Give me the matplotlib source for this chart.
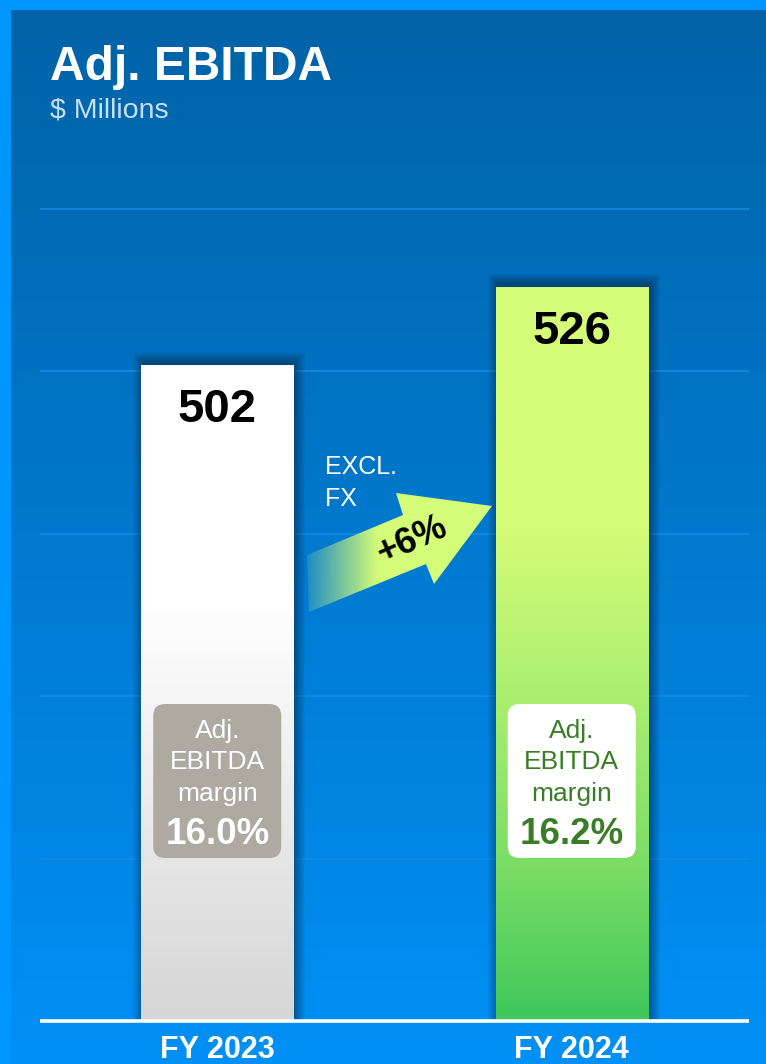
import numpy as np
import matplotlib
matplotlib.use('Agg')
import matplotlib.pyplot as plt
from matplotlib.colors import LinearSegmentedColormap, to_rgb
from matplotlib.patches import Rectangle, FancyBboxPatch, Polygon

# ---------------- data ----------------
categories = ['FY 2023', 'FY 2024']
values = [502, 526]
margin_values = ['16.0%', '16.2%']
margin_caption = ['Adj.', 'EBITDA', 'margin']
growth_label = '+6%'
growth_note = ['EXCL.', 'FX']
title = 'Adj. EBITDA'
subtitle = '$ Millions'
y_min, y_max = 300, 600
grid_ticks = [350, 400, 450, 500, 550]

plt.rcParams['font.family'] = ['Liberation Sans', 'DejaVu Sans']

W, H = 766, 1064
DPI = 100
fig = plt.figure(figsize=(W / DPI, H / DPI), dpi=DPI)


def fx(x):
    return x / W


def fy(y):
    return 1 - y / H


# ---------------- background ----------------
bg = fig.add_axes([0, 0, 1, 1], zorder=0)
bg.set_xlim(0, W)
bg.set_ylim(H, 0)
bg.axis('off')
top_c = np.array(to_rgb('#0062a6'))
bot_c = np.array(to_rgb('#0090f6'))
t = np.linspace(0, 1, 256)[:, None]
grad = top_c * (1 - t) + bot_c * t
img = np.repeat(grad[:, None, :], 2, axis=1)
bg.imshow(img, extent=[0, W, H, 0], aspect='auto', interpolation='bilinear')
bg.add_patch(Rectangle((0, 0), W, 10, color='#0096ff', lw=0))
bg.add_patch(Rectangle((0, 0), 11, H, color='#0096ff', lw=0))
bg.set_xlim(0, W)
bg.set_ylim(H, 0)

# ---------------- main axes ----------------
ax = fig.add_axes([fx(40), fy(1021), fx(749) - fx(40), fy(46) - fy(1021)], zorder=1)
ax.patch.set_alpha(0)
ax.set_xlim(-0.5, 1.5)
ax.set_ylim(y_min, y_max)
for s in ax.spines.values():
    s.set_visible(False)
ax.set_yticks([])
ax.set_xticks([])

for g in grid_ticks:
    ax.axhline(g, color='#1a8ce8', lw=1.4, alpha=0.75, zorder=1, solid_capstyle='butt')

x = np.arange(len(categories))
bar_w = 0.43
bars = ax.bar(x, np.array(values) - y_min, bottom=y_min, width=bar_w,
              color='none', lw=0, zorder=3)

# pixel -> data scale
ax_w_px = (fx(749) - fx(40)) * W
ax_h_px = (fy(46) - fy(1021)) * H
dx = (1.5 - (-0.5)) / ax_w_px
dy = (y_max - y_min) / ax_h_px

# shadows
for b in bars:
    x0, y0 = b.get_x(), b.get_y()
    w, h = b.get_width(), b.get_height()
    for k in range(1, 12):
        ax.add_patch(Rectangle((x0 - (k - 3) * dx, y0), w + (2 * k - 2) * dx,
                               h + (k + 2) * dy, color='black', alpha=0.035,
                               lw=0, zorder=2))

bar_stops = [
    [(0, '#ffffff'), (0.36, '#ffffff'), (1, '#d6d6d6')],
    [(0, '#d4fc78'), (0.33, '#d4fc78'), (0.56, '#aaef70'), (0.8, '#78dc64'), (1, '#3ec75a')],
]
for b, stops in zip(bars, bar_stops):
    cmap = LinearSegmentedColormap.from_list('g', stops)
    x0, y0 = b.get_x(), b.get_y()
    w, h = b.get_width(), b.get_height()
    gimg = np.linspace(0, 1, 256)[:, None]
    im = ax.imshow(gimg, cmap=cmap, vmin=0, vmax=1, extent=[x0, x0 + w, y0, y0 + h],
                   aspect='auto', origin='upper', zorder=3, interpolation='bilinear')
    im.set_clip_path(b)

ax.set_xlim(-0.5, 1.5)
ax.set_ylim(y_min, y_max)
ax.axhline(y_min, color='white', lw=2.6, zorder=5, clip_on=False, solid_capstyle='butt')

# value labels
for xi, v in zip(x, values):
    ax.annotate(str(v), (xi, v), xytext=(0, -58 * 72 / DPI), textcoords='offset points',
                ha='center', va='baseline', fontsize=34, fontweight='bold',
                color='black', zorder=6)

# category labels
for xi, c in zip(x, categories):
    ax.annotate(c, (xi, y_min), xytext=(0, -37 * 72 / DPI), textcoords='offset points',
                ha='center', va='baseline', fontsize=22, fontweight='bold',
                color='white', annotation_clip=False)

# ---------------- overlay (pixel coordinates) ----------------
ov = fig.add_axes([0, 0, 1, 1], zorder=2)
ov.patch.set_alpha(0)
ov.set_xlim(0, W)
ov.set_ylim(H, 0)
ov.axis('off')

ov.text(50, 80, title, fontsize=34.5, fontweight='bold', color='white',
        ha='left', va='baseline')
ov.text(50, 118, subtitle, fontsize=20.5, color='#c8def2', ha='left', va='baseline')

# margin boxes
box_face = ['#aeaaa2', '#ffffff']
box_text = ['#ffffff', '#3a7d27']
for xi, mv, fc, tc in zip(x, margin_values, box_face, box_text):
    cx = ax.transData.transform((xi, 0))[0]
    bw, top, bot = 128, 704, 858
    r = 12
    ov.add_patch(FancyBboxPatch((cx - bw / 2 + r, top + r), bw - 2 * r, bot - top - 2 * r,
                                boxstyle=f'round,pad={r}', fc=fc, ec='none', zorder=3))
    for line, yb in zip(margin_caption, [738, 769, 801]):
        ov.text(cx, yb, line, fontsize=19, color=tc, ha='center', va='baseline', zorder=4)
    ov.text(cx, 844, mv, fontsize=26.5, fontweight='bold', color=tc, ha='center',
            va='baseline', zorder=4)

# growth arrow
pts = [(307, 555), (403, 515), (396, 493), (492, 506), (434, 584), (426, 564), (309, 612)]
arrow = Polygon(pts, closed=True, fc='none', ec='none', zorder=3)
ov.add_patch(arrow)
gx = np.linspace(305, 493, 256)
alpha = 0.12 + 0.88 * np.clip((gx - 305) / 72, 0, 1)
rgba = np.zeros((2, 256, 4))
rgba[..., :3] = to_rgb('#d4fc78')
rgba[..., 3] = alpha
aim = ov.imshow(rgba, extent=[305, 493, 613, 492], aspect='auto', zorder=3,
                interpolation='bilinear')
aim.set_clip_path(arrow)
ov.set_xlim(0, W)
ov.set_ylim(H, 0)

ov.text(412, 540, growth_label, fontsize=26, fontweight='bold', color='black',
        rotation=24, ha='center', va='center', rotation_mode='anchor', zorder=4)
ov.text(325, 474, growth_note[0], fontsize=18, color='white', ha='left', va='baseline')
ov.text(325, 506, growth_note[1], fontsize=18, color='white', ha='left', va='baseline')

fig.savefig('out.png', dpi=DPI)
